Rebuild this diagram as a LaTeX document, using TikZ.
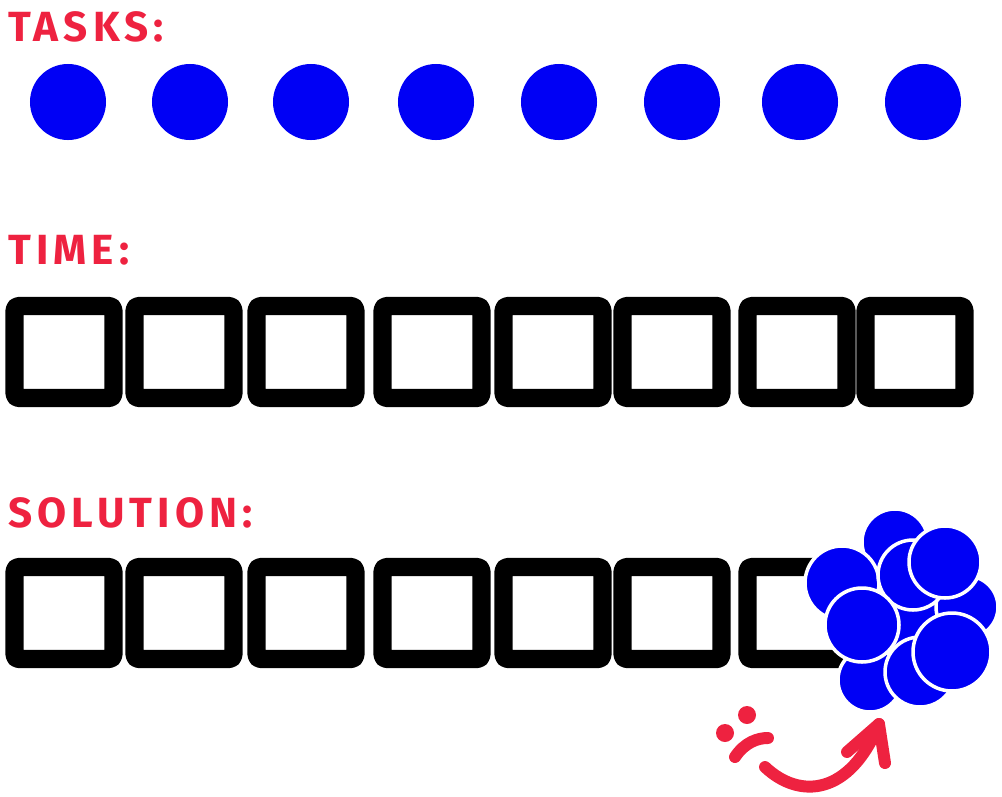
\documentclass[tikz,border=0pt]{standalone}
\usepackage{fontspec}
\setmainfont{Fira Sans}
\definecolor{marker}{HTML}{EE2240}
\definecolor{dotblue}{HTML}{0000F5}
\begin{document}
\begin{tikzpicture}[x=0.025cm,y=-0.025cm,line join=round,line cap=round]
	\tikzset{
		heading/.style={anchor=south west, inner sep=0pt, text=marker, font=\fontsize{30}{30}\selectfont\bfseries\addfontfeatures{LetterSpace=12}},
		slot/.style={draw, line width=13pt, minimum width=2.47cm, minimum height=2.3cm, rounded corners=3pt, inner sep=0pt},
		task/.style={circle, fill=dotblue, minimum size=1.9cm, inner sep=0pt},
		blob/.style={circle, fill=dotblue, draw=white, line width=2.5pt, inner sep=0pt},
		pen/.style={draw=marker, line width=8.5pt}
	}
	\useasboundingbox (0,0) rectangle (1002,797);
	% labels
	\node[heading] (tasks) at (8,42) {TASKS:};
	\node[heading] (time) at (8,265) {TIME:};
	\node[heading] (solution) at (8,528) {SOLUTION:};
	% tasks
	\foreach \x [count=\i] in {68,190,311,436,559,682,800,923}
		\node[task] (t\i) at (\x,102) {};
	% time slots
	\foreach \x [count=\i] in {64,184,306,432,553,672,797,915}
		\node[slot] (s\i) at (\x,352) {};
	% solution slots
	\foreach \x [count=\i] in {64,184,306,432,553,672,797}
		\node[slot] (r\i) at (\x,613) {};
	% all tasks piled on the last slot
	\fill[dotblue] (915,625) circle (60);
	\foreach \x/\y/\r [count=\i] in {895/542/33, 842/583/37, 967/607/31, 870/680/32, 913/575/35, 945/562/36, 862/625/37, 920/672/35, 952/652/39}
		\node[blob, minimum size=2*\r*0.025cm] (p\i) at (\x,\y) {};
	% sad face
	\fill[marker] (725,733) circle (9) (747,715) circle (9);
	\draw[pen] (735,757) .. controls (745,742) and (758,738) .. (768,738);
	% arrow
	\coordinate (arrowstart) at (765,767);
	\coordinate (arrowtip) at (879,724);
	\draw[pen] (arrowstart) .. controls (800,800) and (850,795) .. (arrowtip);
	\draw[pen] (847,752) -- (arrowtip) -- (885,763);
\end{tikzpicture}
\end{document}
